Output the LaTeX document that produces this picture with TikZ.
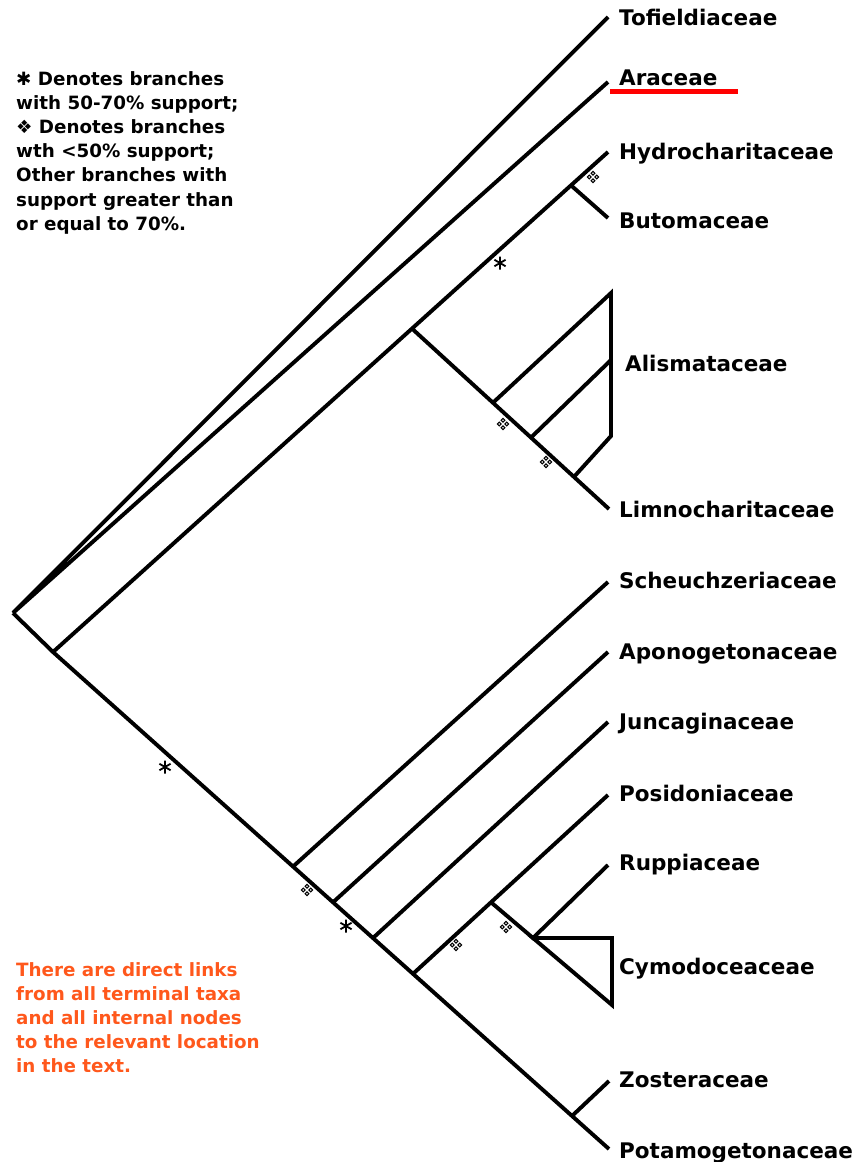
\documentclass[tikz,border=0pt]{standalone}
\usepackage{fontspec}
\setmainfont{DejaVu Sans}
\usetikzlibrary{calc}
\definecolor{noteorange}{RGB}{255,88,28}
\tikzset{
  br/.style={line width=3.9pt, line join=miter},
  taxon/.style={anchor=base west, inner sep=0pt, font=\fontsize{21.5}{25}\selectfont\bfseries},
  legendtext/.style={anchor=north west, inner sep=0pt, align=left, font=\fontsize{18.3}{24.2}\selectfont\bfseries},
  astk/.pic={\draw[line width=1.8pt] (0,-6.5) -- (0,6.5) (-5.6,-3.25) -- (5.6,3.25) (-5.6,3.25) -- (5.6,-3.25);},
  lowsup/.pic={\foreach \dx/\dy in {0/-3.8,3.8/0,0/3.8,-3.8/0} \draw[line width=1.1pt] (\dx,\dy) circle (1.9);}
}
\begin{document}
\begin{tikzpicture}[x=1pt,y=-1pt]
\useasboundingbox (0,0) rectangle (861,1162);
% tips
\coordinate (tofT) at (608,17);
\coordinate (araT) at (608,82);
\coordinate (hydT) at (608,152);
\coordinate (butT) at (608,218);
\coordinate (limT) at (609,509);
\coordinate (schT) at (608,582);
\coordinate (apoT) at (608,652);
\coordinate (junT) at (608,722);
\coordinate (posT) at (608,795);
\coordinate (rupT) at (608,865);
\coordinate (zosT) at (609,1081);
\coordinate (potT) at (609,1149);
% internal nodes
\coordinate (root) at (13,613);
\coordinate (n1) at (53,652);
\coordinate (a0) at ($(n1)!0.6468!(hydT)$);
\coordinate (hb) at ($(n1)!0.9333!(hydT)$);
\coordinate (a1) at ($(a0)!0.411!(limT)$);
\coordinate (a2) at ($(a0)!0.604!(limT)$);
\coordinate (a3) at ($(a0)!0.822!(limT)$);
\coordinate (t1) at (611,293);
\coordinate (t2) at (611,360);
\coordinate (t3) at (611,436);
\coordinate (s1) at ($(n1)!0.4317!(potT)$);
\coordinate (s2) at ($(n1)!0.5036!(potT)$);
\coordinate (s3) at ($(n1)!0.5755!(potT)$);
\coordinate (s4) at ($(n1)!0.6475!(potT)$);
\coordinate (zp) at ($(n1)!0.9335!(potT)$);
\coordinate (rc) at ($(s4)!0.4!(posT)$);
\coordinate (cy) at (533,938);
\coordinate (cyA) at (612,938);
\coordinate (cyB) at (612,1005);
% labels
\node[taxon] (tof) at (619,25) {Tofieldiaceae};
\node[taxon] (ara) at (619,85) {Araceae};
\node[taxon] (hyd) at (619,159) {Hydrocharitaceae};
\node[taxon] (but) at (619,228) {Butomaceae};
\node[taxon] (ali) at (625,371) {Alismataceae};
\node[taxon] (lim) at (619,517) {Limnocharitaceae};
\node[taxon] (sch) at (619,588) {Scheuchzeriaceae};
\node[taxon] (apo) at (619,659) {Aponogetonaceae};
\node[taxon] (jun) at (619,729) {Juncaginaceae};
\node[taxon] (pos) at (619,801) {Posidoniaceae};
\node[taxon] (rup) at (619,870) {Ruppiaceae};
\node[taxon] (cym) at (619,974) {Cymodoceaceae};
\node[taxon] (zos) at (619,1087) {Zosteraceae};
\node[taxon] (pot) at (619,1158) {Potamogetonaceae};
\draw[red, line width=5pt] (610,91.5) -- (738,91.5);
% branches
\draw[br] (tofT) -- (root) -- (araT);
\draw[br] (root) -- (n1) -- (potT);
\draw[br] (n1) -- (hydT);
\draw[br] (hb) -- (butT);
\draw[br] (a0) -- (limT);
\draw[br] (a1) -- (t1) -- (t3) -- (a3);
\draw[br] (a2) -- (t2);
\draw[br] (s1) -- (schT);
\draw[br] (s2) -- (apoT);
\draw[br] (s3) -- (junT);
\draw[br] (s4) -- (posT);
\draw[br] (rc) -- (cy) -- (rupT);
\draw[br] (cy) -- (cyA) -- (cyB) -- cycle;
\draw[br] (zp) -- (zosT);
% support marks
\pic at (500,263) {astk};
\pic at (165,767) {astk};
\pic at (346,926) {astk};
\pic at (593,177) {lowsup};
\pic at (503,424) {lowsup};
\pic at (546,462) {lowsup};
\pic at (307,890) {lowsup};
\pic at (506,927) {lowsup};
\pic at (456,945) {lowsup};
% notes
\node[legendtext] (legend) at (16,71) {✱ Denotes branches\\with 50-70\% support;\\❖ Denotes branches\\wth <50\% support;\\Other branches with\\support greater than\\or equal to 70\%.};
\node[legendtext, text=noteorange] (note) at (16,962) {There are direct links\\from all terminal taxa\\and all internal nodes\\to the relevant location\\in the text.};
\end{tikzpicture}
\end{document}
